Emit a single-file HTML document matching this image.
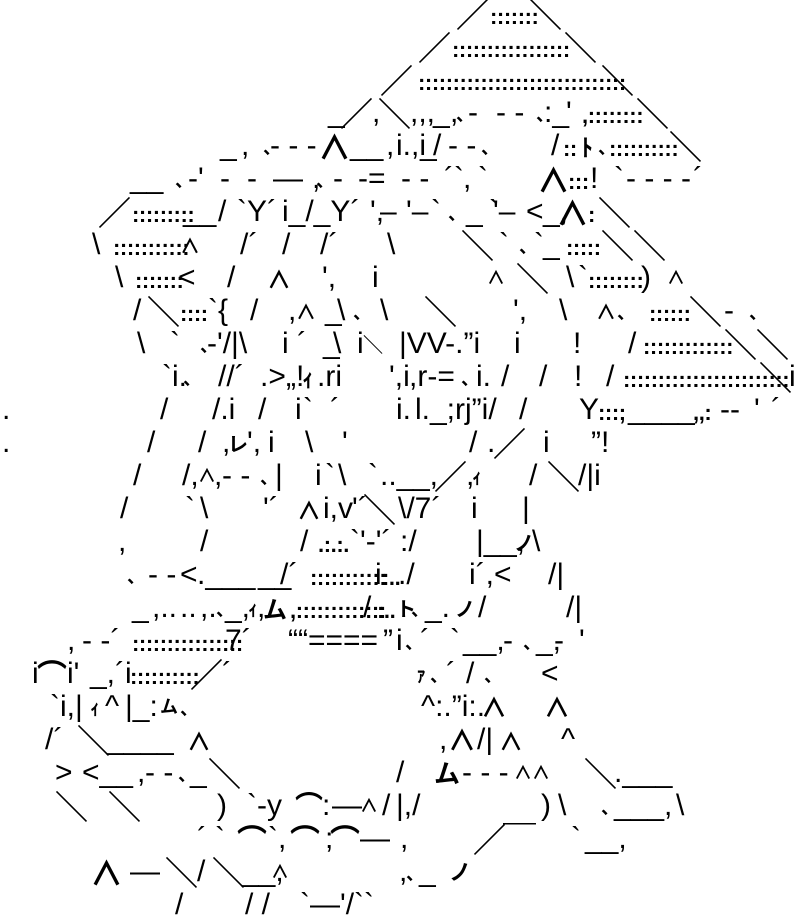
<!DOCTYPE html>
<html><head><meta charset="utf-8">
<style>
html,body{margin:0;padding:0;background:#fff;}
body{width:796px;height:924px;position:relative;overflow:hidden;color:#000;}
.r{position:absolute;left:0;width:796px;height:33px;}
.r span{position:absolute;top:0;white-space:pre;font-family:"Liberation Sans","Noto Sans CJK JP",sans-serif;font-size:30px;line-height:33px;}
.r span.j{font-family:"Noto Sans CJK JP",sans-serif;font-weight:bold;font-size:33px;}
.r span.d{font-size:22px;letter-spacing:-0.4px;top:3px;font-weight:bold;}
.r span.s{font-family:"Noto Sans CJK JP",sans-serif;font-size:18px;top:2px;font-weight:bold;}
</style></head><body>

<div class="r" style="top:-3px"><span class="j" style="left:456px">／</span><span class="d" style="left:490px">:::::::</span><span class="j" style="left:529px">＼</span></div>

<div class="r" style="top:30px"><span class="j" style="left:418px">／</span><span class="d" style="left:452px">:::::::::::::::::</span><span class="j" style="left:564px">＼</span></div>

<div class="r" style="top:63px"><span class="j" style="left:380px">／</span><span class="d" style="left:418px">::::::::::::::::::::::::::::::</span><span class="j" style="left:601px">＼</span></div>

<div class="r" style="top:96px"><span style="left:328px">_</span><span class="j" style="left:340px">／</span><span style="left:372px">,</span><span class="j" style="left:378px">＼</span><span style="left:410px">,,,</span><span style="left:433px">_</span><span style="left:450px">,</span><span class="s" style="left:456px">、</span><span style="left:468px">-</span><span style="left:496px">- -</span><span class="s" style="left:536px">、</span><span style="left:544px">:_</span><span style="left:566px">'</span><span class="d" style="left:582px">,::::::::</span><span class="j" style="left:636px">＼</span></div>

<div class="r" style="top:129px"><span style="left:220px">_</span><span style="left:241px">,</span><span class="s" style="left:263px">、</span><span style="left:270px">- - -</span><span class="j" style="left:318px">∧</span><span style="left:350px">__</span><span style="left:386px">,</span><span style="left:396px">i.,i</span><span style="left:420px">_</span><span style="left:433px">/</span><span style="left:448px">- -</span><span class="s" style="left:481px">、</span><span style="left:551px">/</span><span class="d" style="left:563px">::</span><span class="j" style="left:581px;font-size:24px">ﾄ</span><span class="s" style="left:598px">、</span><span class="d" style="left:609px">::::::::::</span><span class="j" style="left:669px">＼</span></div>

<div class="r" style="top:162px"><span style="left:130px">__</span><span class="s" style="left:175px">、</span><span style="left:188px">-'</span><span style="left:220px">-</span><span style="left:247px">-</span><span style="left:273px">—</span><span style="left:312px">,</span><span class="s" style="left:316px">、</span><span style="left:333px">-</span><span style="left:358px">-=</span><span style="left:401px">- -</span><span style="left:444px">´`</span><span style="left:463px">,</span><span style="left:478px">`</span><span class="j" style="left:537px">∧</span><span class="d" style="left:568px">:::</span><span style="left:590px">!</span><span style="left:614px">`</span><span style="left:626px">- - - -</span><span style="left:693px">´</span></div>

<div class="r" style="top:195px"><span class="j" style="left:98px">／</span><span class="d" style="left:132px">:::::::::</span><span style="left:183px">__</span><span style="left:218px">/</span><span style="left:237px">`Y´</span><span style="left:282px">i_/_Y´</span><span style="left:370px">',</span><span style="left:380px">–</span><span style="left:406px">'–</span><span style="left:431px">`</span><span class="s" style="left:448px">、</span><span style="left:466px">_</span><span style="left:489px">`</span><span style="left:493px">'–</span><span style="left:526px">&lt;</span><span style="left:543px">_,</span><span class="j" style="left:556px">∧</span><span class="d" style="left:588px">:</span><span class="j" style="left:598px">＼</span></div>

<div class="r" style="top:228px"><span style="left:92px">\</span><span class="d" style="left:113px">:::::::::::</span><span class="j" style="left:180px;font-size:20px">∧</span><span style="left:240px">/´</span><span style="left:282px">/</span><span style="left:320px">/´</span><span style="left:387px">\</span><span class="j" style="left:461px">＼</span><span style="left:499px">`</span><span class="s" style="left:519px">、</span><span style="left:534px">`</span><span style="left:543px">_</span><span class="d" style="left:566px">:::::</span><span class="j" style="left:601px">＼</span><span class="j" style="left:633px">＼</span></div>

<div class="r" style="top:261px"><span style="left:115px">\</span><span class="d" style="left:135px">:::::::</span><span style="left:178px">&lt;</span><span style="left:227px">/</span><span class="j" style="left:267px;font-size:24px">∧</span><span style="left:322px">',</span><span style="left:372px">i</span><span class="j" style="left:487px;font-size:18px">∧</span><span class="j" style="left:516px">＼</span><span style="left:566px">\</span><span style="left:578px">`</span><span class="d" style="left:588px">::::::::</span><span style="left:641px">)</span><span class="j" style="left:667px;font-size:18px">∧</span></div>

<div class="r" style="top:294px"><span style="left:133px">/</span><span class="j" style="left:147px">＼</span><span class="d" style="left:180px">::::</span><span style="left:208px">`{</span><span style="left:250px">/</span><span style="left:288px">,</span><span class="j" style="left:296px;font-size:20px">∧</span><span style="left:325px">_</span><span style="left:337px">\</span><span class="s" style="left:353px">、</span><span style="left:380px">\</span><span class="j" style="left:424px">＼</span><span style="left:513px">',</span><span style="left:559px">\</span><span class="j" style="left:596px;font-size:20px">∧</span><span class="s" style="left:617px">、</span><span class="d" style="left:649px">::::::</span><span class="j" style="left:689px">＼</span><span style="left:724px">-</span><span class="s" style="left:749px">、</span></div>

<div class="r" style="top:327px"><span style="left:137px">\</span><span style="left:170px">`</span><span class="s" style="left:200px">、</span><span style="left:207px">-'/|\</span><span style="left:282px">i</span><span style="left:297px">´</span><span style="left:323px">_</span><span style="left:333px">\</span><span style="left:357px">i</span><span class="j" style="left:363px;font-size:20px">＼</span><span style="left:399px">|VV-.”i</span><span style="left:514px">i</span><span style="left:573px">!</span><span style="left:628px">/</span><span class="d" style="left:643px">:::::::::::::</span><span class="j" style="left:724px">＼</span><span class="j" style="left:756px">＼</span></div>

<div class="r" style="top:360px"><span style="left:162px">`i.</span><span class="s" style="left:183px">、</span><span style="left:218px">//´</span><span style="left:260px">.&gt;</span><span style="left:286px">„!</span><span class="j" style="left:302px;font-size:24px">ｨ</span><span style="left:317px">.ri</span><span style="left:389px">',i</span><span style="left:409px">,r-=</span><span class="s" style="left:461px">、</span><span style="left:476px">i.</span><span style="left:501px">/</span><span style="left:539px">/</span><span style="left:574px">!</span><span style="left:606px">/</span><span class="d" style="left:623px">::::::::::::::::::::::::</span><span class="j" style="left:759px">＼</span><span style="left:789px">i</span></div>

<div class="r" style="top:393px"><span style="left:2px">.</span><span style="left:160px">/</span><span style="left:212px">/.i</span><span style="left:258px">/</span><span style="left:295px">i</span><span style="left:303px">`</span><span style="left:330px">´</span><span style="left:396px">i.</span><span style="left:415px">l._;rj”i/</span><span style="left:519px">/</span><span style="left:579px">Y</span><span class="d" style="left:598px">:::;</span><span style="left:628px">____</span><span class="d" style="left:693px">,,:</span><span style="left:720px">--</span><span style="left:754px">'</span><span style="left:771px">´</span></div>

<div class="r" style="top:426px"><span style="left:2px">.</span><span style="left:147px">/</span><span style="left:198px">/</span><span style="left:222px">,</span><span class="j" style="left:228px;font-size:20px">レ</span><span style="left:247px">',</span><span style="left:268px">i</span><span style="left:305px">\</span><span style="left:342px">'</span><span style="left:469px">/</span><span style="left:487px">.</span><span class="j" style="left:493px">／</span><span style="left:543px">i</span><span style="left:591px">”!</span></div>

<div class="r" style="top:459px"><span style="left:133px">/</span><span style="left:182px">/,</span><span class="j" style="left:198px;font-size:18px">∧</span><span style="left:214px">,</span><span style="left:222px">- -</span><span class="s" style="left:260px">、</span><span style="left:275px">|</span><span style="left:315px">i</span><span style="left:325px">`</span><span style="left:338px">\</span><span style="left:368px">`</span><span style="left:380px">.._</span><span style="left:413px">_,</span><span class="j" style="left:434px">／</span><span style="left:466px">,</span><span class="j" style="left:472px;font-size:20px">ｨ</span><span style="left:529px">/</span><span class="j" style="left:547px">＼</span><span style="left:578px">/|i</span></div>

<div class="r" style="top:492px"><span style="left:120px">/</span><span style="left:185px">`</span><span style="left:200px">\</span><span style="left:263px">'´</span><span class="j" style="left:297px;font-size:24px">∧</span><span style="left:323px">i,v</span><span style="left:352px">'´</span><span class="j" style="left:363px">＼</span><span style="left:398px">\/7´</span><span style="left:471px">i</span><span style="left:522px">|</span></div>

<div class="r" style="top:525px"><span style="left:118px">,</span><span style="left:200px">/</span><span style="left:300px">/</span><span class="d" style="left:318px">.:.:.</span><span style="left:350px">`'-'´</span><span style="left:400px">:/</span><span style="left:476px">|_</span><span style="left:500px">_,</span><span class="j" style="left:514px;font-size:20px">ノ</span><span style="left:532px">\</span></div>

<div class="r" style="top:558px"><span class="s" style="left:127px">、</span><span style="left:148px">- -</span><span style="left:180px">&lt;</span><span style="left:197px">.___</span><span style="left:258px">__</span><span style="left:280px">/´</span><span class="d" style="left:310px">:::::::::::</span><span style="left:375px">i</span><span class="d" style="left:382px">:..</span><span style="left:398px">./</span><span style="left:469px">i´,&lt;</span><span style="left:548px">/|</span></div>

<div class="r" style="top:591px"><span style="left:132px">_</span><span style="left:152px">,..</span><span style="left:180px">..</span><span style="left:200px">,.</span><span class="s" style="left:216px">、</span><span style="left:225px">_,</span><span class="j" style="left:248px;font-size:20px">ｨ</span><span style="left:257px">,</span><span class="j" style="left:263px;font-size:24px">ム</span><span class="d" style="left:290px">,:::::::::::::</span><span style="left:363px">/</span><span class="d" style="left:377px">:..</span><span class="j" style="left:396px;font-size:20px">ト</span><span class="s" style="left:411px">、</span><span style="left:425px">_.</span><span class="j" style="left:455px;font-size:20px">ノ</span><span style="left:478px">/</span><span style="left:566px">/|</span></div>

<div class="r" style="top:624px"><span style="left:67px">,</span><span style="left:82px">- -´</span><span class="d" style="left:132px">::::::::::::::::</span><span style="left:225px">7´</span><span style="left:288px">““</span><span style="left:308px">====</span><span style="left:383px">”</span><span style="left:396px">i</span><span class="s" style="left:405px">、</span><span style="left:420px">´</span><span style="left:450px">`</span><span style="left:463px">__,</span><span style="left:503px">-</span><span class="s" style="left:523px">、</span><span style="left:536px">_,</span><span style="left:554px">-</span><span style="left:579px">'</span></div>

<div class="r" style="top:657px"><span style="left:32px">i</span><span class="j" style="left:37px;font-size:30px">⌒</span><span style="left:67px">i'</span><span style="left:90px">_,´</span><span style="left:125px">i</span><span class="d" style="left:130px">::::::::::</span><span class="j" style="left:190px">／</span><span style="left:222px">´</span><span class="j" style="left:416px;font-size:20px">ｧ</span><span class="s" style="left:430px">、</span><span style="left:446px">´</span><span style="left:466px">/</span><span class="s" style="left:484px">、</span><span style="left:541px">&lt;</span></div>

<div class="r" style="top:690px"><span style="left:50px">`i,|</span><span class="j" style="left:90px;font-size:20px">ｨ</span><span style="left:105px">^</span><span style="left:125px">|_:</span><span class="j" style="left:160px;font-size:18px">ム</span><span class="s" style="left:180px">、</span><span style="left:421px">^:.”i:.</span><span class="j" style="left:481px;font-size:26px">∧</span><span class="j" style="left:544px;font-size:26px">∧</span></div>

<div class="r" style="top:723px"><span style="left:45px">/´</span><span class="j" style="left:77px">＼</span><span style="left:107px">____</span><span class="j" style="left:187px;font-size:24px">∧</span><span style="left:439px">,</span><span class="j" style="left:448px;font-size:28px">∧</span><span style="left:477px">/|</span><span class="j" style="left:499px;font-size:24px">∧</span><span style="left:561px">^</span></div>

<div class="r" style="top:756px"><span style="left:55px">&gt;</span><span style="left:82px">&lt;__</span><span style="left:137px">,</span><span style="left:145px">- -</span><span class="s" style="left:178px">、</span><span style="left:190px">_</span><span class="j" style="left:208px">＼</span><span style="left:396px">/</span><span class="j" style="left:434px;font-size:26px">ム</span><span style="left:462px">- - -</span><span class="j" style="left:514px;font-size:18px">∧∧</span><span class="j" style="left:584px">＼</span><span style="left:614px">.___</span></div>

<div class="r" style="top:789px"><span class="j" style="left:55px">＼</span><span class="j" style="left:108px">＼</span><span style="left:217px">)</span><span style="left:247px">`-y</span><span class="j" style="left:295px;font-size:28px">⌒</span><span style="left:322px">:</span><span style="left:332px">—</span><span class="j" style="left:360px;font-size:18px">∧</span><span style="left:382px">/</span><span style="left:396px">|,/</span><span style="left:541px">)</span><span style="left:558px">\</span><span class="s" style="left:601px">、</span><span style="left:614px">___,</span><span style="left:676px">\</span></div>

<div class="r" style="top:822px"><span style="left:197px">´</span><span style="left:215px">`</span><span class="j" style="left:237px;font-size:30px">⌒</span><span style="left:268px">`,</span><span class="j" style="left:290px;font-size:30px">⌒</span><span style="left:325px">;</span><span class="j" style="left:330px;font-size:30px">⌒</span><span style="left:360px">—</span><span style="left:400px">,</span><span class="j" style="left:473px">／</span><span class="j" style="left:503px">￣</span><span style="left:571px">`</span><span style="left:585px">__,</span></div>

<div class="r" style="top:855px"><span class="j" style="left:90px">∧</span><span style="left:130px">—</span><span class="j" style="left:165px">＼</span><span style="left:197px">/</span><span class="j" style="left:212px">＼</span><span style="left:242px">__,</span><span class="j" style="left:271px;font-size:18px">∧</span><span style="left:399px">,</span><span class="s" style="left:406px">、</span><span style="left:419px">_</span><span class="j" style="left:449px;font-size:22px">ノ</span></div>

<div class="r" style="top:888px"><span style="left:175px">/</span><span style="left:245px">/ /</span><span style="left:300px">`—'/``</span></div>

</body></html>
